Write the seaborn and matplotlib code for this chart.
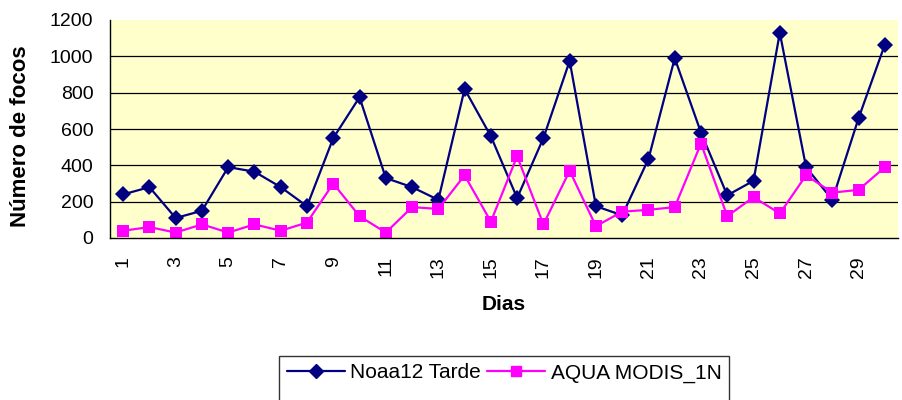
import numpy as np
import pandas as pd
import matplotlib
matplotlib.use("Agg")
import matplotlib.pyplot as plt
import seaborn as sns
from matplotlib.ticker import MultipleLocator, FixedLocator

# dados
dias = list(range(1, 31))
noaa12 = [240, 280, 110, 150, 390, 365, 280, 175, 550, 775,
          330, 280, 210, 820, 560, 220, 550, 975, 175, 125,
          435, 990, 580, 235, 315, 1130, 390, 210, 660, 1065]
aqua = [40, 60, 30, 75, 30, 75, 40, 85, 300, 120,
        30, 170, 160, 345, 90, 450, 75, 370, 65, 145,
        155, 170, 520, 120, 225, 135, 345, 250, 265, 390]
series = ["Noaa12 Tarde", "AQUA MODIS_1N"]
cores = ["#000080", "#FF00FF"]

df = pd.DataFrame({"Dias": dias * 2,
                   "focos": noaa12 + aqua,
                   "serie": [series[0]] * 30 + [series[1]] * 30})

sns.set_style("white")
plt.rcParams['font.family'] = ['Liberation Sans', 'DejaVu Sans']
plt.rcParams.update({"text.color": "black", "axes.labelcolor": "black",
                     "xtick.color": "black", "ytick.color": "black"})

fig = plt.figure(figsize=(9.02, 4), dpi=100)
ax = fig.add_axes([110 / 902, 1 - 238 / 400, 788 / 902, 218 / 400])
ax.set_facecolor("#FFFFCC")

# grade horizontal so nas linhas internas (sem linha no topo)
for g in range(200, 1200, 200):
    ax.axhline(g, color="black", linewidth=0.9, zorder=0.5)

sns.lineplot(data=df, x="Dias", y="focos", hue="serie", style="serie",
             palette=cores, markers=["D", "s"], dashes=False,
             markersize=8, markeredgewidth=0, linewidth=1.6, ax=ax, legend=False)

ax.set_xlim(0.5, 30.5)
ax.set_ylim(0, 1200)
ax.yaxis.set_major_locator(MultipleLocator(200))

ax.xaxis.set_major_locator(FixedLocator(dias[::2]))
ax.set_xticklabels([str(d) for d in dias[::2]], rotation=90, fontsize=14)
ax.xaxis.set_minor_locator(FixedLocator(np.arange(0.5, 31, 1)))
ax.tick_params(axis="x", which="major", length=0, pad=13)
ax.tick_params(axis="x", which="minor", length=5, width=1, color="black", direction="out")
ax.tick_params(axis="y", length=5, width=1, color="black", direction="out",
               labelsize=14, pad=7)

for s in ["top", "right"]:
    ax.spines[s].set_visible(False)
for s in ["left", "bottom"]:
    ax.spines[s].set_color("black")
    ax.spines[s].set_linewidth(1)

ax.set_xlabel("Dias", fontsize=15, fontweight="bold")
ax.xaxis.set_label_coords(0.5, -0.26)
ax.set_ylabel("Número de focos", fontsize=16, fontweight="bold")
ax.yaxis.set_label_coords(-0.100, 0.468)

# legenda: segunda linha vazia para a caixa descer alem da borda
vazio = plt.Line2D([], [], linestyle="none")
handles = [plt.Line2D([], [], color=cores[0], marker="D", markersize=7, linewidth=1.6),
           vazio,
           plt.Line2D([], [], color=cores[1], marker="s", markersize=7, linewidth=1.6),
           vazio]
labels = [series[0], "", series[1], ""]
leg = fig.legend(handles, labels, loc="upper center", bbox_to_anchor=(504 / 902, 1 - 356 / 400),
                 ncol=2, frameon=True, fancybox=False, fontsize=15, handlelength=2.8,
                 columnspacing=0.3, handletextpad=0.25, borderpad=0.35, labelspacing=0.6,
                 borderaxespad=0)
leg.get_frame().set_edgecolor("black")
leg.get_frame().set_linewidth(1)

fig.savefig("out.png", dpi=100)
